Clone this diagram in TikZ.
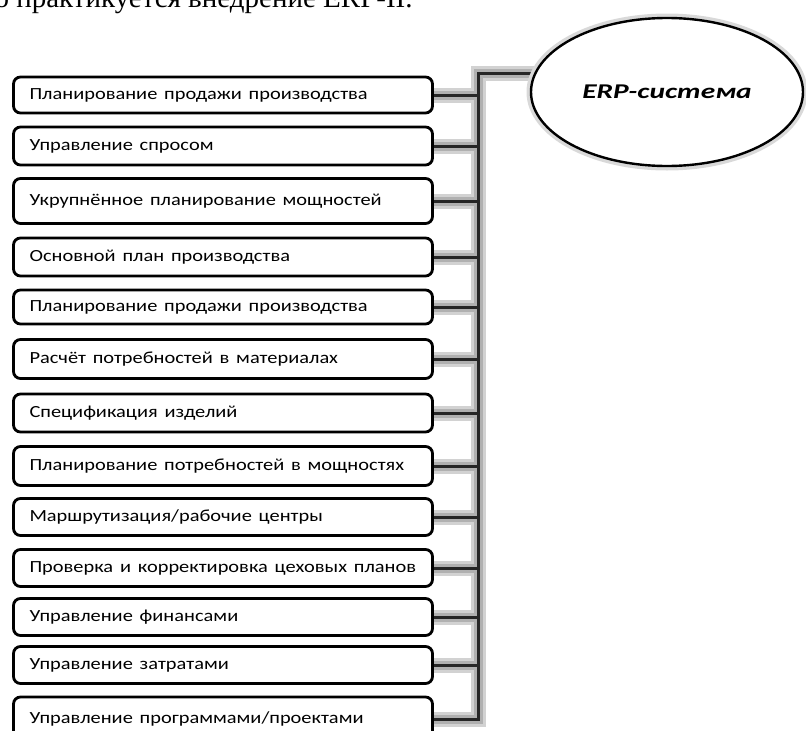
\documentclass[tikz,border=0pt]{standalone}
\usepackage{fontspec}
\usepackage{graphicx}
\setmainfont{Liberation Serif}
\newfontfamily\boxfont{Carlito}[WordSpace=0.6]
\usetikzlibrary{shapes.geometric, backgrounds}

\tikzset{
  task box/.style={
    draw=black, line width=2.8pt, rounded corners=7pt, fill=white,
    inner xsep=16pt, inner ysep=0pt, text width=387pt, align=left,
    font=\boxfont\fontsize{17}{20}\selectfont
  },
  erp oval/.style={
    ellipse, draw=black, line width=2.4pt, fill=white,
    minimum width=272pt, minimum height=148pt, inner sep=0pt,
    preaction={draw=gray!30, line width=9pt},
    font=\boxfont\bfseries\itshape\fontsize{21}{24}\selectfont
  },
  outer shade/.style={draw=gray!35, line width=15pt},
  inner shade/.style={draw=gray!62, line width=9pt},
  wire/.style={draw=black!85, line width=3pt}
}
\newcommand{\wide}[1]{\scalebox{1.2}[1]{#1}}

\begin{document}
\begin{tikzpicture}[x=1pt, y=-1pt]
    \useasboundingbox (0,0) rectangle (806,731);
    \clip (0,0) rectangle (806,731);

    % line of the page text above the figure
    \node[anchor=base west, font=\fontsize{29}{33}\selectfont] (lead) at (-9,7)
      {о практикуется внедрение ERP-II.};

    % the system itself
    \node[erp oval] (erp) at (667,92) {\scalebox{1.4}[1]{ERP-система}};

    % corner where the bus turns towards the oval
    \coordinate (hub) at (478,73);

    % modules: centre y / height / text
    \foreach \y/\h/\t [count=\i] in {
        95/36/{Планирование продажи производства},
        146/38/{Управление спросом},
        201/45/{Укрупнённое планирование мощностей},
        257/38/{Основной план производства},
        307/34/{Планирование продажи производства},
        359/39/{Расчёт потребностей в материалах},
        413/38/{Спецификация изделий},
        466/39/{Планирование потребностей в мощностях},
        517/37/{Маршрутизация/рабочие центры},
        568/37/{Проверка и корректировка цеховых планов},
        617/37/{Управление финансами},
        665/37/{Управление затратами},
        719/44/{Управление программами/проектами}}
      \node[task box, minimum height=\h pt] (b\i) at (223,\y) {\wide{\t}};

    % connectors, drawn layer by layer so the dark wire stays on top
    \begin{scope}[on background layer]
      \foreach \st in {outer shade, inner shade, wire}
        \foreach \i in {1,...,13}
          \path[\st] (b\i.east) -- (b\i.east -| hub) -- (hub) -- (hub -| erp.172);
    \end{scope}
\end{tikzpicture}
\end{document}
